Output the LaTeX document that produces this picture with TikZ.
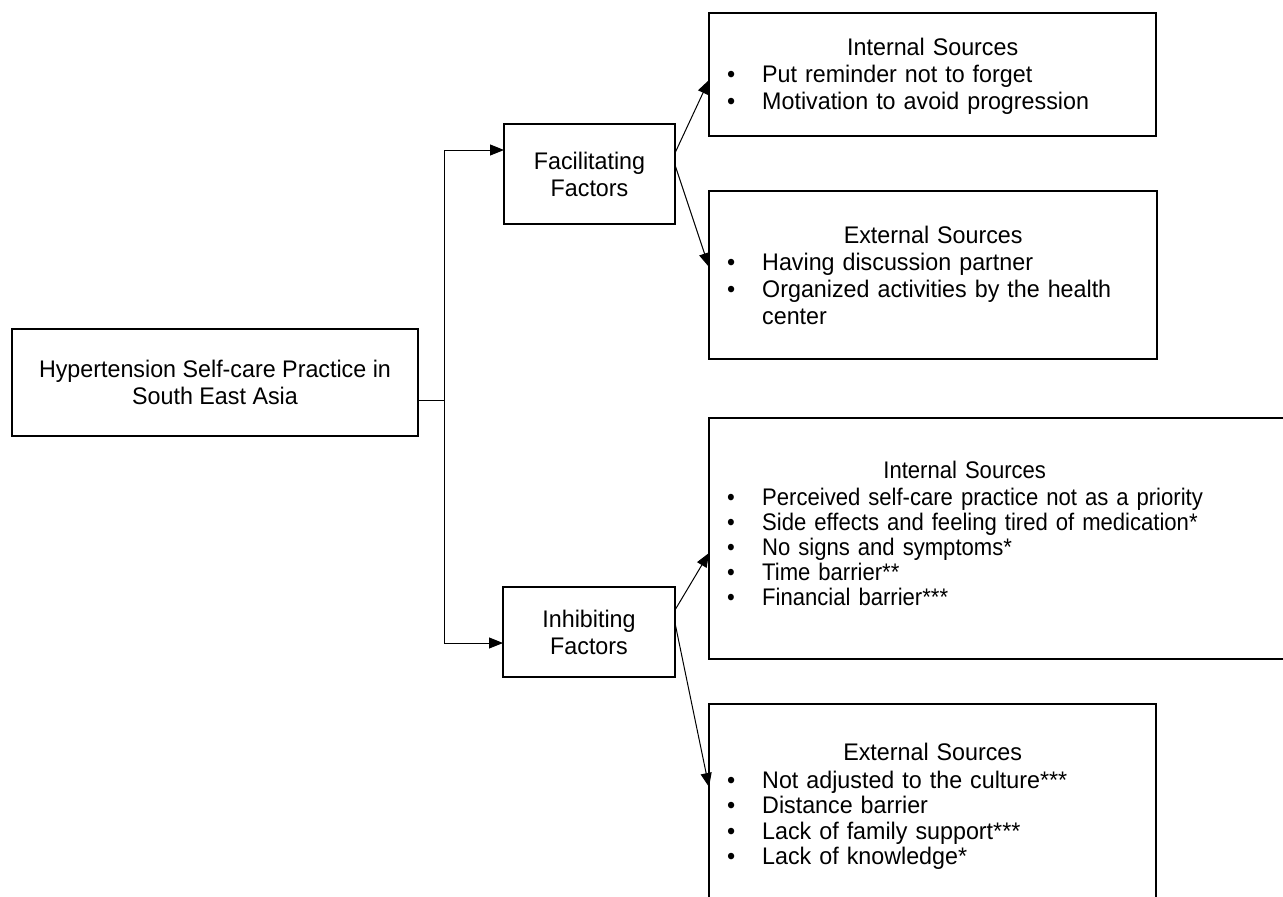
\documentclass[tikz,border=0pt]{standalone}
\usepackage{fontspec}
\setmainfont{Liberation Sans}[FakeStretch=0.97]
\newfontfamily\narrowsans{Liberation Sans}[FakeStretch=0.92]
\usetikzlibrary{arrows.meta}
\newcommand\bitem{\par\leavevmode\hangindent=53pt\hangafter=1\makebox[53pt][l]{\hspace{18pt}\textbullet}}
\tikzset{
  boxstyle/.style={draw, line width=2.2pt, inner sep=0pt},
  txt/.style={font=\fontsize{24}{27}\selectfont},
  srctext/.style={txt, inner sep=0pt, anchor=north west, text width=#1},
  conn/.style={line width=1pt},
  arr/.style={conn, -{Triangle[length=14pt,width=11pt]}}
}
\begin{document}
\begin{tikzpicture}[x=1pt,y=-1pt]
\useasboundingbox (0,0) rectangle (1283,897);
\clip (0,0) rectangle (1283,897);
\fill[white] (0,0) rectangle (1283,897);
% main boxes
\node[boxstyle, txt, align=center, minimum width=406pt, minimum height=107pt] (main) at (215,382.5) {Hypertension Self-care Practice in\\South East Asia};
\node[boxstyle, txt, align=center, minimum width=171pt, minimum height=100pt] (fac) at (589.5,174) {Facilitating\\Factors};
\node[boxstyle, txt, align=center, minimum width=172pt, minimum height=90pt] (inh) at (589,632) {Inhibiting\\Factors};
% source boxes
\node[boxstyle, minimum width=447pt, minimum height=123pt] (int1) at (932.5,74.5) {};
\node[boxstyle, minimum width=448pt, minimum height=168pt] (ext1) at (933,275) {};
\node[boxstyle, minimum width=600pt, minimum height=241pt] (int2) at (1009,538.5) {};
\node[boxstyle, minimum width=447pt, minimum height=230pt] (ext2) at (932.5,819) {};
% texts
\node[srctext=447pt] (t1) at (709,38) {\centering Internal Sources\par\raggedright
\bitem Put reminder not to forget
\bitem Motivation to avoid progression\par};
\node[srctext=448pt] (t2) at (709,226) {\centering External Sources\par\raggedright
\bitem Having discussion partner
\bitem Organized activities by the health\newline center\par};
\node[srctext=511pt, font=\fontsize{24}{25}\narrowsans] (t3) at (709,461) {\centering Internal Sources\par\vspace{2pt}\raggedright
\bitem Perceived self-care practice not as a priority
\bitem Side effects and feeling tired of medication*
\bitem No signs and symptoms*
\bitem Time barrier**
\bitem Financial barrier***\par};
\node[srctext=447pt, font=\fontsize{24}{25.5}\selectfont] (t4) at (709,743) {\centering External Sources\par\vspace{2pt}\raggedright
\bitem Not adjusted to the culture***
\bitem Distance barrier
\bitem Lack of family support***
\bitem Lack of knowledge*\par};
% connectors
\coordinate (j) at (444,400);
\coordinate (jt) at (444,150);
\coordinate (jb) at (444,643);
\coordinate (mo) at (418,400);
\coordinate (fi) at (504,150);
\coordinate (ii) at (503,643);
\draw[conn] (mo) -- (j);
\draw[conn] (jt) -- (jb);
\draw[arr] (jt) -- (fi);
\draw[arr] (jb) -- (ii);
\coordinate (fo1) at (675,153);
\coordinate (fo2) at (675,165);
\coordinate (io1) at (675,610);
\coordinate (io2) at (675,623);
\coordinate (a1) at (709,80);
\coordinate (a2) at (709,267);
\coordinate (a3) at (709,553);
\coordinate (a4) at (709,787);
\draw[arr] (fo1) -- (a1);
\draw[arr] (fo2) -- (a2);
\draw[arr] (io1) -- (a3);
\draw[arr] (io2) -- (a4);
\end{tikzpicture}
\end{document}
